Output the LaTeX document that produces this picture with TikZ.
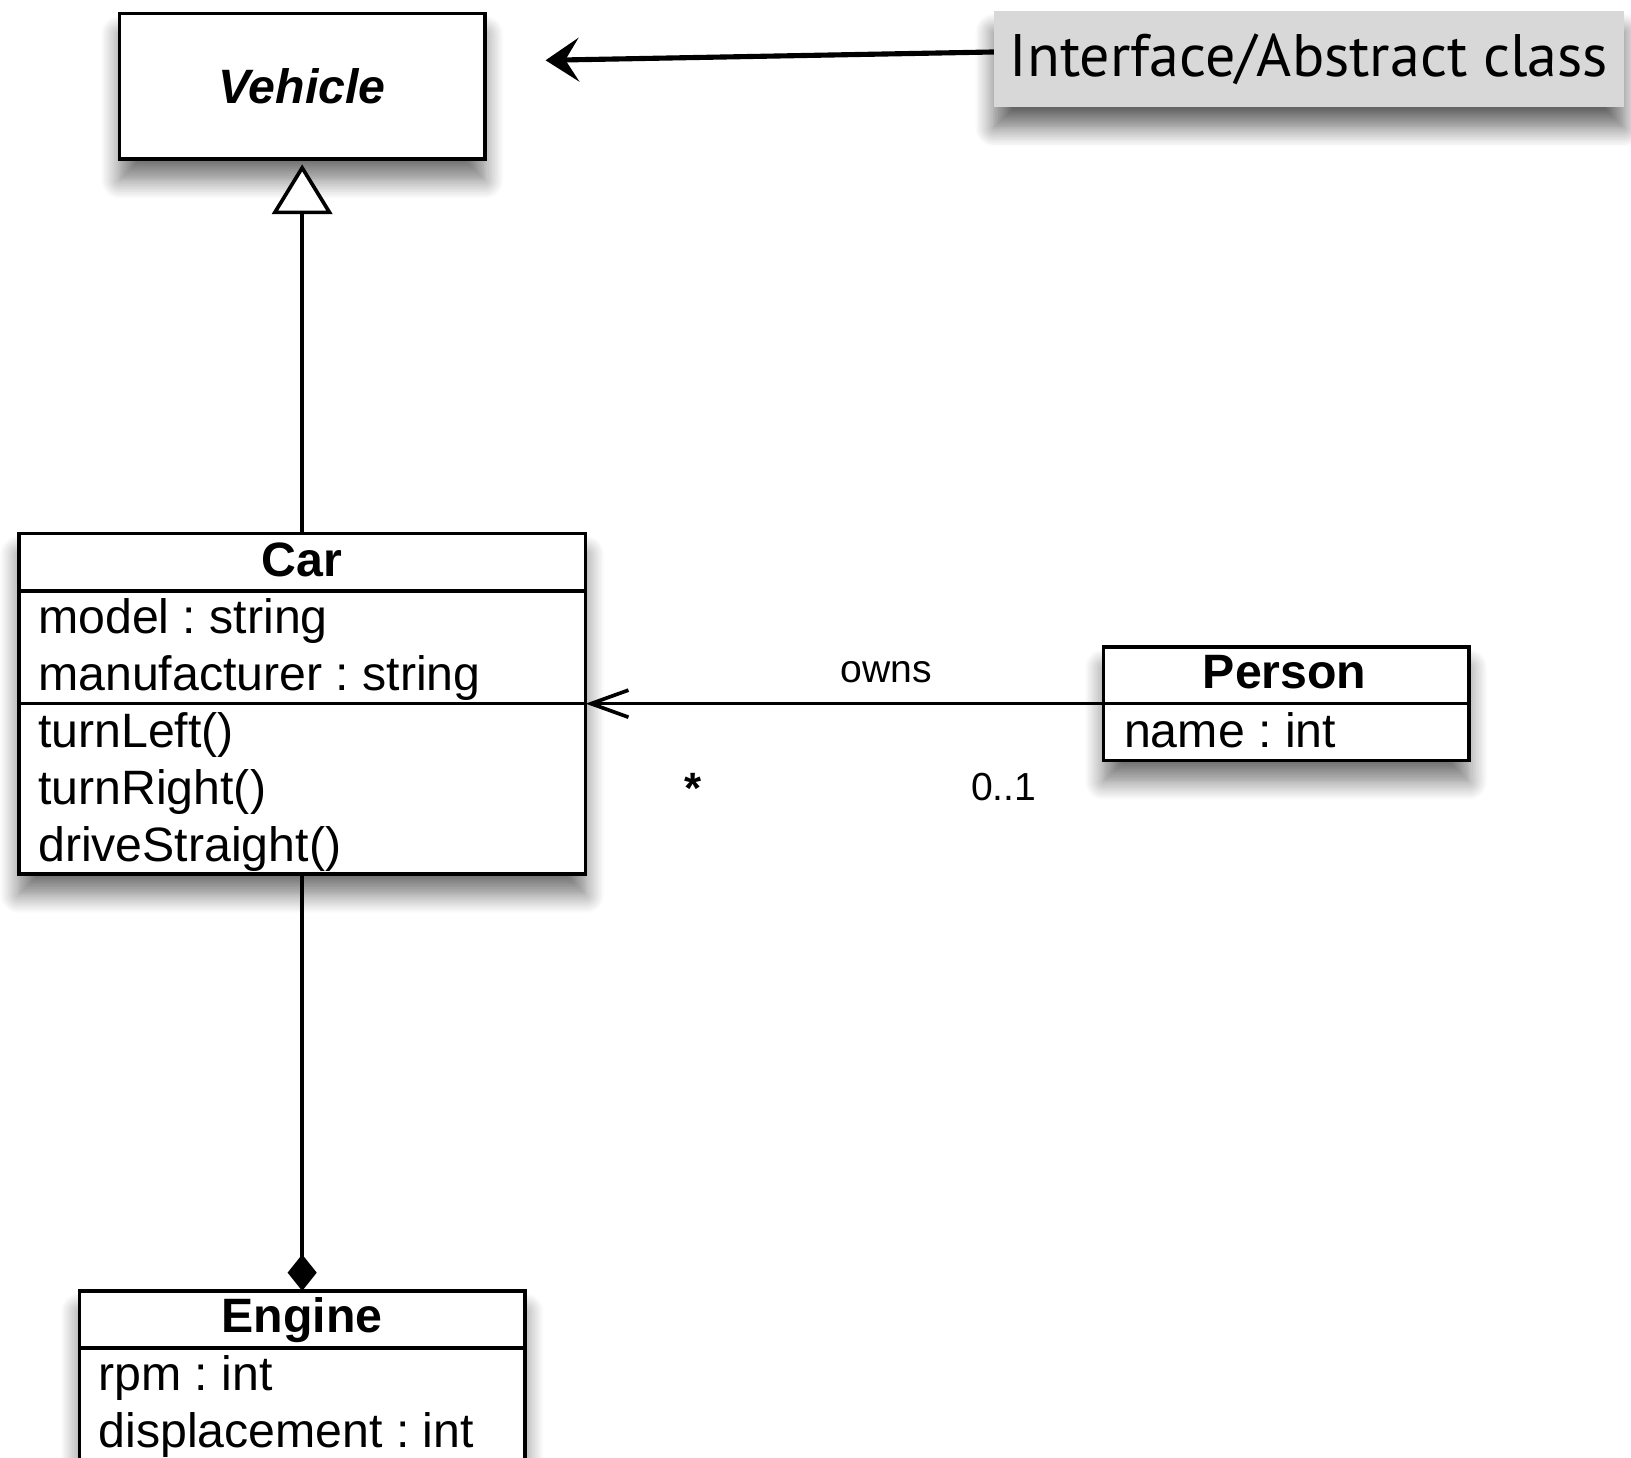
\documentclass[tikz,border=0pt]{standalone}
\usepackage{fontspec}
\setmainfont{Liberation Sans}
\newfontfamily\notefont{PT Sans}
\usetikzlibrary{arrows.meta,shadows.blur}
\frenchspacing

\definecolor{notegray}{RGB}{216,216,216}

\tikzset{
	classbox/.style={draw=black, line width=1pt, fill=white, inner sep=0pt, outer sep=0pt,
		blur shadow={shadow xshift=0cm, shadow yshift=-0.2cm, shadow blur radius=0.18cm, shadow blur steps=12, shadow opacity=55}},
	notebox/.style={fill=notegray, inner sep=0pt, outer sep=0pt, font=\notefont\fontsize{16.4}{19}\selectfont,
		blur shadow={shadow xshift=0cm, shadow yshift=-0.2cm, shadow blur radius=0.18cm, shadow blur steps=12, shadow opacity=60}},
	classname/.style={anchor=base, inner sep=0pt, font=\bfseries\fontsize{13.2}{15}\selectfont},
	member/.style={anchor=base west, inner sep=0pt, font=\fontsize{13.2}{15}\selectfont},
	multiplicity/.style={anchor=base, inner sep=0pt, font=\fontsize{10.7}{13}\selectfont},
}

\begin{document}
\begin{tikzpicture}
		\useasboundingbox (0,0) rectangle (15.68,14.01);

		%classes
		\node[classbox, minimum width=3.51cm, minimum height=1.40cm, font=\bfseries\itshape\fontsize{13.2}{15}\selectfont] (vehicle) at (2.905,13.18) {Vehicle};
		\node[classbox, minimum width=5.45cm, minimum height=3.27cm] (car) at (2.905,7.245) {};
		\node[classbox, minimum width=3.51cm, minimum height=1.09cm] (person) at (12.365,7.245) {};
		\node[classbox, minimum width=4.28cm, minimum height=1.72cm] (engine) at (2.905,0.74) {};

		%compartments
		\draw[line width=1pt] (car.west |- 0,8.33) -- (car.east |- 0,8.33);
		\draw[line width=1pt] (car.west) -- (car.east);
		\draw[line width=1pt] (person.west) -- (person.east);
		\draw[line width=1pt] (engine.west |- 0,1.05) -- (engine.east |- 0,1.05);

		%names
		\node[classname] (carname) at (2.905,8.47) {Car};
		\node[classname] (personname) at (12.35,7.39) {Person};
		\node[classname] (enginename) at (2.905,1.20) {Engine};

		%members
		\node[member] (carmodel) at (0.36,7.92) {model : string};
		\node[member] (carmanufacturer) at (0.36,7.37) {manufacturer : string};
		\node[member] (carleft) at (0.36,6.82) {turnLeft()};
		\node[member] (carright) at (0.36,6.28) {turnRight()};
		\node[member] (carstraight) at (0.36,5.73) {driveStraight()};
		\node[member] (personattr) at (10.80,6.82) {name : int};
		\node[member] (enginerpm) at (0.94,0.64) {rpm : int};
		\node[member] (enginedisplacement) at (0.94,0.09) {displacement : int};

		%relations
		\draw[line width=1pt, -{Triangle[open, length=4.8mm, width=5.8mm, fill=white]}, shorten >=0.5mm] (car.north) -- (vehicle.south);
		\draw[line width=1pt, -{Diamond[length=3.5mm, width=2.8mm]}] (car.south) -- (engine.north);
		\draw[line width=1pt, -{Straight Barb[length=3.6mm, width=2.6mm]}] (person.west) -- (car.east)
			node[multiplicity, pos=0.42, yshift=0.2cm] (owns) {owns}
			node[multiplicity, pos=0.793, yshift=-0.955cm, font=\bfseries\fontsize{12}{13}\selectfont] (carend) {*}
			node[multiplicity, pos=0.193, yshift=-0.935cm] (personend) {0..1};

		%note
		\node[notebox, minimum width=6.06cm, minimum height=0.92cm] (note) at (12.585,13.44) {Interface/Abstract class};
		\coordinate (vehiclepointer) at (5.245,13.43);
		\draw[line width=1.4pt, -{Stealth[length=3.2mm, width=4.2mm, inset=1.3mm]}] ([yshift=0.07cm]note.west) -- (vehiclepointer);

\end{tikzpicture}
\end{document}
